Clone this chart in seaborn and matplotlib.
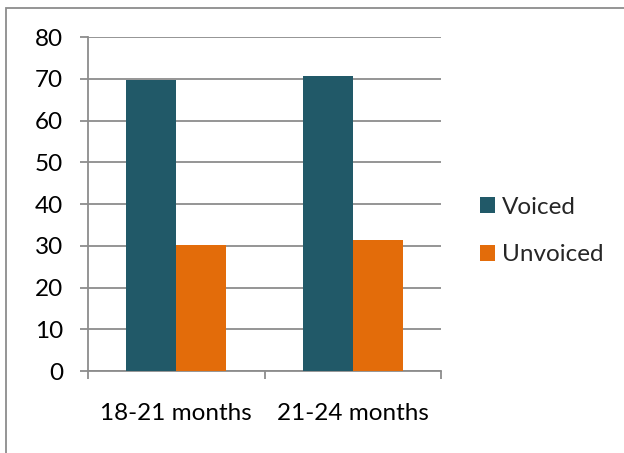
import matplotlib
matplotlib.use("Agg")
import matplotlib.pyplot as plt
import seaborn as sns
import pandas as pd
from matplotlib.patches import Rectangle

categories = ["18-21 months", "21-24 months"]
series = ["Voiced", "Unvoiced"]
voiced = [69.8, 70.6]
unvoiced = [30.2, 31.3]
colors = ["#215968", "#E36C0A"]

df = pd.DataFrame({
    "period": categories * 2,
    "type": [series[0]] * 2 + [series[1]] * 2,
    "value": voiced + unvoiced,
})

sns.set_style("white")
plt.rcParams["font.family"] = ["Lato", "DejaVu Sans"]

fig = plt.figure(figsize=(6.24, 4.53), dpi=100)
ax = fig.add_axes([0.141, 0.181, 0.566, 0.737])

sns.barplot(data=df, x="period", y="value", hue="type", order=categories,
            hue_order=series, palette=colors, width=0.565, saturation=1,
            linewidth=0, ax=ax, zorder=3)

ax.set_ylim(0, 80)
ax.set_xlim(-0.5, 1.5)
ax.set_yticks(range(0, 81, 10))
ax.grid(axis="y", color="#8C8C8C", linewidth=1.3, zorder=0)
ax.set_axisbelow(True)
for s in ["top", "right"]:
    ax.spines[s].set_visible(False)
for s in ["left", "bottom"]:
    ax.spines[s].set_color("#8C8C8C")
    ax.spines[s].set_linewidth(1.3)

fs = 17.5
ax.set_xlabel("")
ax.set_ylabel("")
ax.tick_params(axis="y", labelsize=fs, length=5.8, width=1.3, color="#8C8C8C",
               pad=12, left=True, labelcolor="black")
ax.tick_params(axis="x", which="major", labelsize=fs, length=0, pad=23,
               labelcolor="black")
ax.set_xticks([-0.5, 0.5, 1.5], minor=True)
ax.tick_params(axis="x", which="minor", length=5.8, width=1.3, color="#8C8C8C",
               bottom=True)

ax.legend(loc="center left", bbox_to_anchor=(1.11, 0.419), frameon=False,
          fontsize=fs, handlelength=0.62, handleheight=0.62, handletextpad=0.3,
          labelspacing=1.1, borderaxespad=0, borderpad=0)

fig.patches.append(Rectangle((6 / 624, -0.1), 1.2, 1 - 8 / 453 + 0.1,
                             transform=fig.transFigure, fill=False,
                             edgecolor="#8C8C8C", linewidth=1.3))

fig.savefig("out.png", dpi=100)
